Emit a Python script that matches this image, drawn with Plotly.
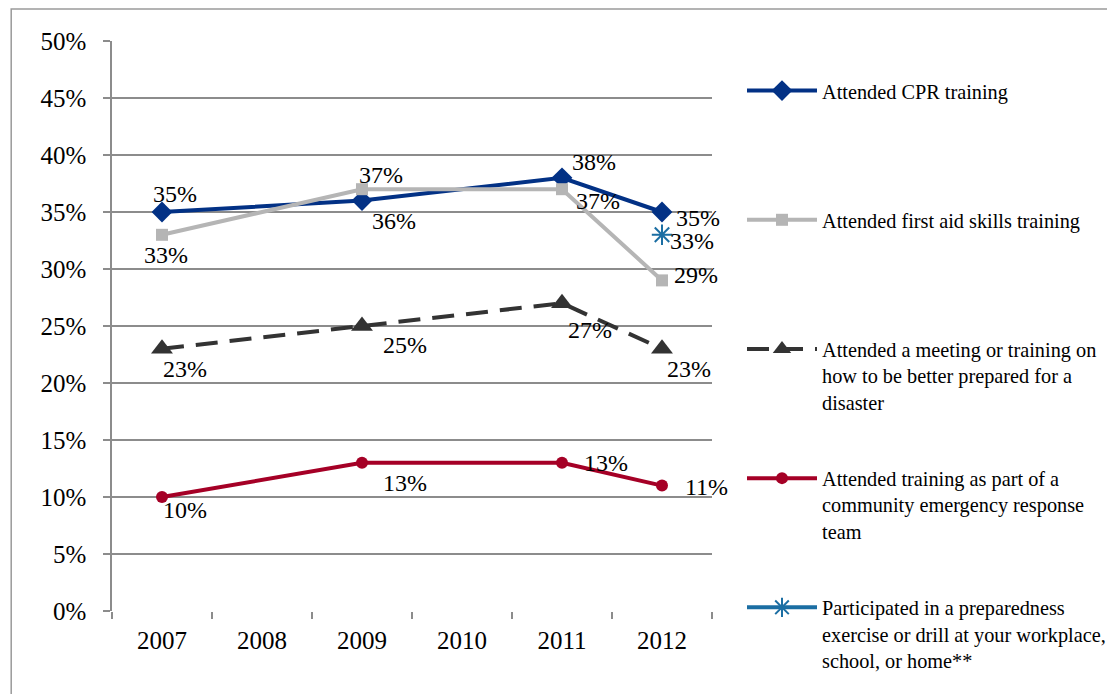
import plotly.graph_objects as go

years = ["2007", "2008", "2009", "2010", "2011", "2012"]
x_pts = ["2007", "2009", "2011", "2012"]

cpr = [35, 36, 38, 35]
first_aid = [33, 37, 37, 29]
meeting = [23, 25, 27, 23]
cert = [10, 13, 13, 11]
drill_x = ["2012"]
drill = [33]

names = [
    "Attended CPR training<br> <br> ",
    "Attended first aid skills training<br> <br> ",
    "Attended a meeting or training on<br>how to be better prepared for a<br>disaster",
    "Attended training as part of a<br>community emergency response<br>team",
    "Participated in a preparedness<br>exercise or drill at your workplace,<br>school, or home**",
]

FONT = "Liberation Serif, Times New Roman, serif"

fig = go.Figure()

fig.add_trace(go.Scatter(x=x_pts, y=cpr, name=names[0], mode="lines+markers", legendgroup="a",
                         line=dict(color="#023185", width=4),
                         marker=dict(symbol="diamond", size=16, color="#023185")))
fig.add_trace(go.Scatter(x=x_pts, y=first_aid, name=names[1], mode="lines+markers", legendgroup="b",
                         line=dict(color="#B5B5B5", width=4),
                         marker=dict(symbol="square", size=12, color="#B5B5B5")))
fig.add_trace(go.Scatter(x=x_pts, y=meeting, name=names[2], mode="lines+markers", legendgroup="c",
                         line=dict(color="#333333", width=4, dash="22px,12px"),
                         marker=dict(symbol="triangle-up", size=19, color="#333333")))
fig.add_trace(go.Scatter(x=x_pts, y=cert, name=names[3], mode="lines+markers", legendgroup="d",
                         line=dict(color="#A50026", width=4),
                         marker=dict(symbol="circle", size=12, color="#A50026")))
fig.add_trace(go.Scatter(x=drill_x, y=drill, name=names[4], mode="lines+markers", legendgroup="e",
                         line=dict(color="#1B6EA3", width=4),
                         marker=dict(symbol="asterisk-open", size=17, color="#1B6EA3",
                                     line=dict(color="#1B6EA3", width=2))))

# data labels: (x, value, xshift, yshift)
series_pts = [
    (x_pts, cpr, [13, 32, 32, 36], [18, -20, 16, -6]),
    (x_pts, first_aid, [4, 19, 36, 34], [-20, 14, -12, 5]),
    (x_pts, meeting, [23, 43, 28, 27], [-20, -19, -27, -20]),
    (x_pts, cert, [23, 43, 44, 44], [-13, -20, 0, -1]),
    (drill_x, drill, [30], [-6]),
]
for xs, vals, dxs, dys in series_pts:
    for xv, v, dx, dy in zip(xs, vals, dxs, dys):
        fig.add_annotation(x=years.index(xv), y=v, text=f"{v}%", showarrow=False,
                           xref="x", yref="y",
                           xshift=dx, yshift=dy,
                           font=dict(family=FONT, size=24, color="#000000"))

# outer border of the chart object
fig.add_shape(type="rect", xref="paper", yref="paper",
              x0=-0.168, x1=1.9, y0=-0.5, y1=1.056,
              line=dict(color="#9A9A9A", width=1.5), fillcolor="rgba(0,0,0,0)", layer="below")

fig.update_layout(
    width=1107, height=686,
    margin=dict(l=104, r=403, t=33, b=83, autoexpand=False),
    paper_bgcolor="white", plot_bgcolor="white",
    font=dict(family=FONT, size=24, color="#000000"),
    showlegend=True,
    legend=dict(x=1.05, y=0.9475, xanchor="left", yanchor="top",
                font=dict(family=FONT, size=20.3, color="#000000"),
                valign="top", tracegroupgap=47, itemwidth=70,
                maxheight=900,
                bgcolor="rgba(0,0,0,0)"),
    xaxis=dict(type="category", categoryorder="array", categoryarray=years,
               range=[-0.5, 5.5], showgrid=False, zeroline=False,
               showline=False, ticks="outside", tickson="boundaries",
               ticklen=7, tickcolor="#8C8C8C", tickwidth=1.5,
               ticklabelstandoff=12,
               tickfont=dict(family=FONT, size=25)),
    yaxis=dict(range=[0, 50], dtick=5, ticksuffix="%", showgrid=True,
               gridcolor="#8C8C8C", gridwidth=1.5, zeroline=False,
               showline=True, linecolor="#8C8C8C", linewidth=1.5,
               ticks="outside", ticklen=7, tickcolor="#8C8C8C", tickwidth=1.5,
               ticklabelstandoff=12,
               tickfont=dict(family=FONT, size=25)),
)

fig.write_html("out.html")
